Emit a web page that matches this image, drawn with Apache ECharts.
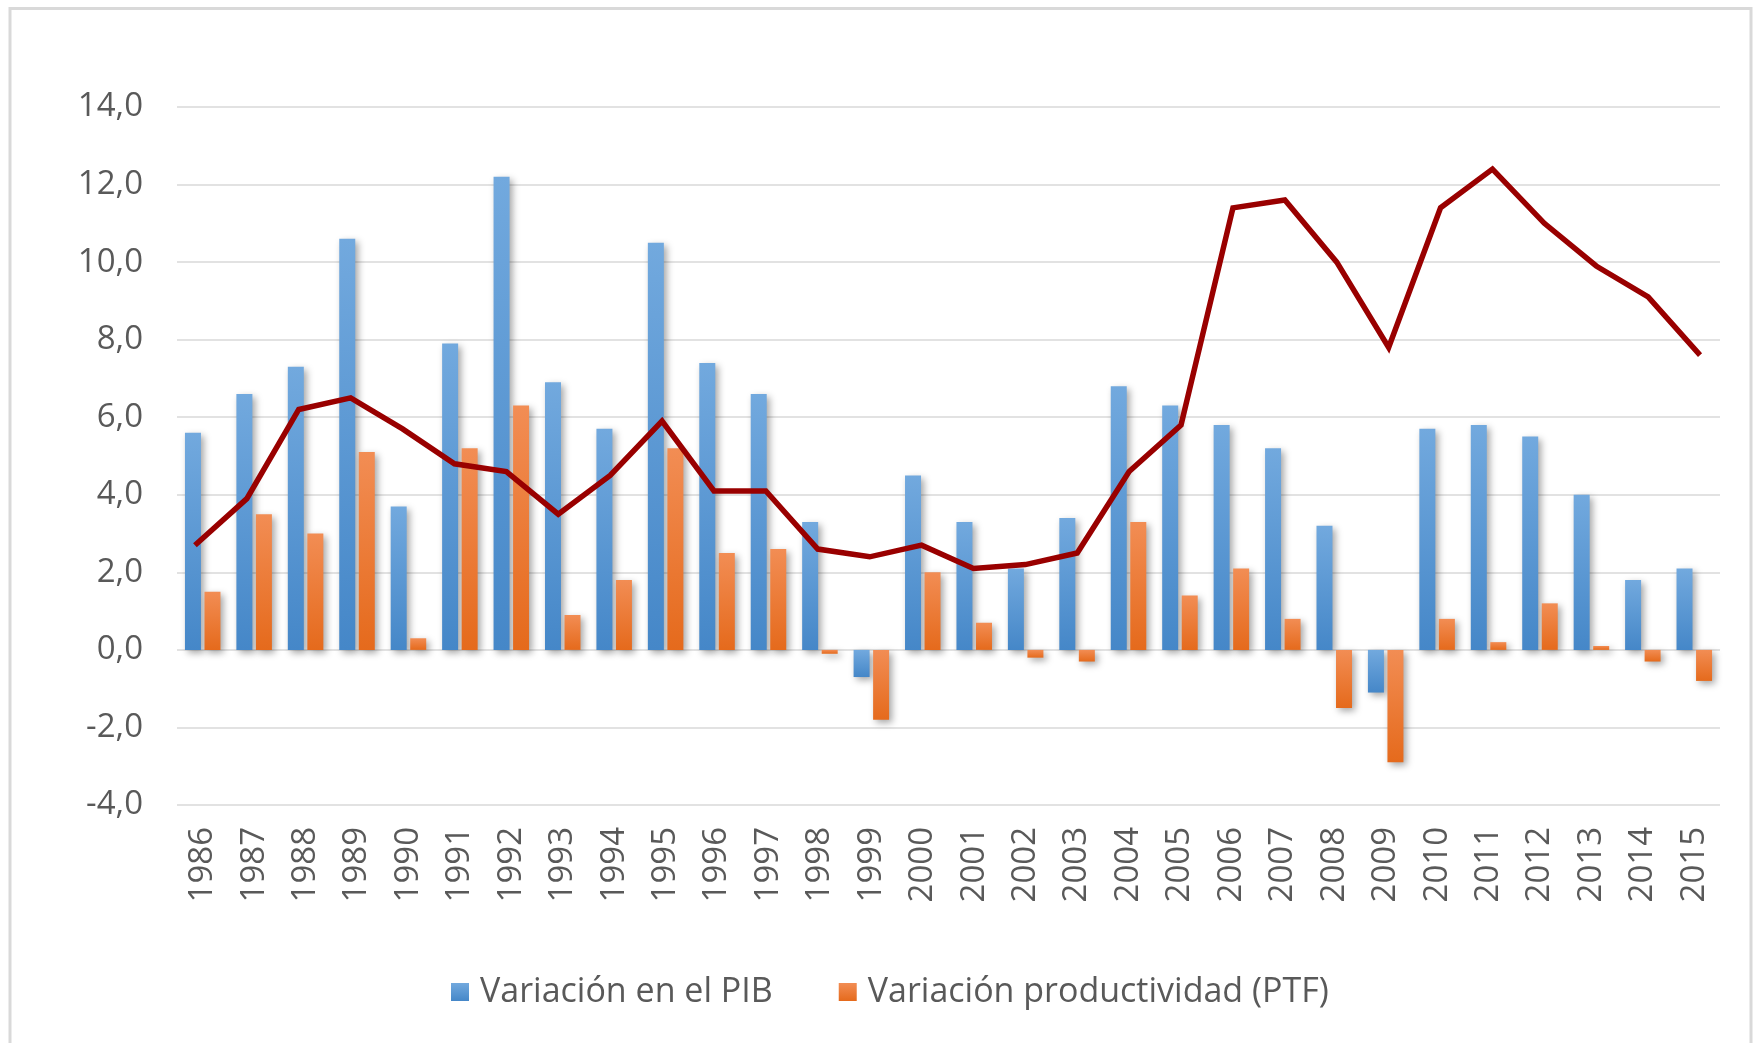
<!DOCTYPE html>
<html>
<head>
<meta charset="utf-8">
<script src="https://cdn.jsdelivr.net/npm/echarts@6/dist/echarts.min.js"></script>
<style>
html,body{margin:0;padding:0;background:#fff;}
#chart{width:1754px;height:1043px;}
</style>
</head>
<body>
<div id="chart"></div>
<script>
const years = ['1986','1987','1988','1989','1990','1991','1992','1993','1994','1995','1996','1997','1998','1999','2000','2001','2002','2003','2004','2005','2006','2007','2008','2009','2010','2011','2012','2013','2014','2015'];
const pib = [5.6,6.6,7.3,10.6,3.7,7.9,12.2,6.9,5.7,10.5,7.4,6.6,3.3,-0.7,4.5,3.3,2.1,3.4,6.8,6.3,5.8,5.2,3.2,-1.1,5.7,5.8,5.5,4.0,1.8,2.1];
const ptf = [1.5,3.5,3.0,5.1,0.3,5.2,6.3,0.9,1.8,5.2,2.5,2.6,-0.1,-1.8,2.0,0.7,-0.2,-0.3,3.3,1.4,2.1,0.8,-1.5,-2.9,0.8,0.2,1.2,0.1,-0.3,-0.8];
const linea = [2.7,3.9,6.2,6.5,5.7,4.8,4.6,3.5,4.5,5.9,4.1,4.1,2.6,2.4,2.7,2.1,2.2,2.5,4.6,5.8,11.4,11.6,10.0,7.8,11.4,12.4,11.0,9.9,9.1,7.6];
const seriesNames = ['Variación en el PIB','Variación productividad (PTF)'];
const yTicks = {min:-4, max:14, interval:2};

const FONT = 'Open Sans';
const TXT = '#595959';
const blueGrad = new echarts.graphic.LinearGradient(0,0,0,1,[{offset:0,color:'#72a9de'},{offset:1,color:'#4587c8'}]);
const orangeGrad = new echarts.graphic.LinearGradient(0,0,0,1,[{offset:0,color:'#f28d54'},{offset:1,color:'#e56a1c'}]);
const shadow = {shadowColor:'rgba(0,0,0,0.35)', shadowBlur:7, shadowOffsetX:3, shadowOffsetY:3};

const chart = echarts.init(document.getElementById('chart'), null, {renderer:'canvas'});
chart.setOption({
  backgroundColor:'#ffffff',
  animation:false,
  textStyle:{fontFamily:FONT},
  graphic:[{
    type:'rect', shape:{x:10, y:8.5, width:1741, height:1100},
    style:{fill:'none', stroke:'#d9d9d9', lineWidth:3}, silent:true, z:-1
  }],
  legend:{
    data:seriesNames,
    left:446, top:970,
    itemWidth:18, itemHeight:18, itemGap:66,
    icon:'rect',
    textStyle:{fontSize:34, color:TXT, fontFamily:FONT, padding:[0,0,0,6]}
  },
  grid:[
    {left:177, right:34, top:107, bottom:238, containLabel:false},
    {left:169, right:28, top:107, bottom:238, containLabel:false}
  ],
  xAxis:[{
    type:'category', data:years, gridIndex:0,
    axisLine:{show:false}, axisTick:{show:false},
    axisLabel:{rotate:90, fontSize:33, color:TXT, margin:22, fontFamily:FONT, padding:[10,0,0,0]},
    splitLine:{show:false}
  },{
    type:'category', data:years, gridIndex:1, show:false
  }],
  yAxis:[{
    type:'value', gridIndex:0, min:yTicks.min, max:yTicks.max, interval:yTicks.interval,
    axisLine:{show:false}, axisTick:{show:false},
    axisLabel:{fontSize:33, color:TXT, margin:34, fontFamily:FONT,
      formatter:v=>v.toFixed(1).replace('.',',')},
    splitLine:{lineStyle:{color:'#d9d9d9', width:1.5}}
  },{
    type:'value', gridIndex:1, min:yTicks.min, max:yTicks.max, interval:yTicks.interval, show:false,
    splitLine:{show:false}
  }],
  series:[{
    name:seriesNames[0], type:'bar', data:pib, xAxisIndex:0, yAxisIndex:0,
    barWidth:16, barGap:'22%',
    itemStyle:Object.assign({color:blueGrad}, shadow)
  },{
    name:seriesNames[1], type:'bar', data:ptf, xAxisIndex:0, yAxisIndex:0,
    barWidth:16, barGap:'22%',
    itemStyle:Object.assign({color:orangeGrad}, shadow)
  },{
    name:'PTF', type:'line', data:linea, xAxisIndex:1, yAxisIndex:1,
    symbol:'none', z:5,
    lineStyle:{color:'#990000', width:5.5, join:'miter'}
  }]
});
</script>
</body>
</html>
